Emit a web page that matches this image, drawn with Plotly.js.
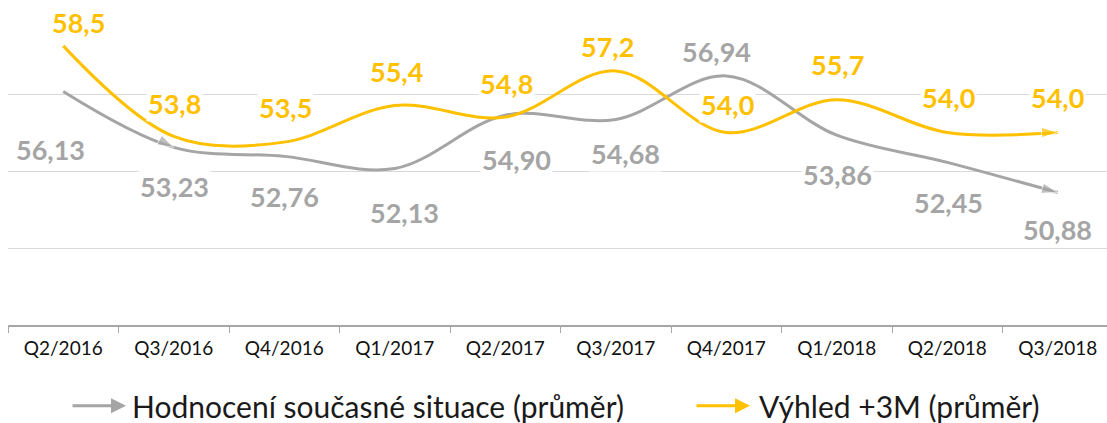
<!DOCTYPE html>
<html>
<head>
<meta charset="utf-8">
<script src="https://cdn.plot.ly/plotly-3.0.1.min.js"></script>
<style>
html,body{margin:0;padding:0;overflow:hidden;background:#fff;}
#chart{width:1113px;height:423px;}
</style>
</head>
<body>
<div id="chart"></div>
<script>
// ---- data ----
const categories = ['Q2/2016','Q3/2016','Q4/2016','Q1/2017','Q2/2017','Q3/2017','Q4/2017','Q1/2018','Q2/2018','Q3/2018'];
const currentSituation = [56.13,53.23,52.76,52.13,54.90,54.68,56.94,53.86,52.45,50.88];
const outlook3M = [58.5,53.8,53.5,55.4,54.8,57.2,54.0,55.7,54.0,54.0];
const seriesNames = ['Hodnocení současné situace (průměr)','Výhled +3M (průměr)'];

// ---- styling / label placement (pixels) ----
const GRAY = '#A5A5A5', GOLD = '#FFC000';
const FONT = 'Lato, "DejaVu Sans", sans-serif';
const grayLabelDx = [-13,1,0,10,11,10,-10,1,1,0];
const grayLabelDy = [-58,-39,-40,-44,-44,-34,24,-39,-40,-37];
const goldLabelDx = [15,1,1,2,1,-8,1,1,1,0];
const goldLabelDy = [23,33,35,34,34,24,28,35,35,35];

function fmt(v, d){ return v.toFixed(d).replace('.', ','); }

function arrowMarkers(n, idx){
  return {
    symbol: Array.from({length:n}, (_,i)=> idx.includes(i) ? 'arrow' : 'circle'),
    size: Array.from({length:n}, (_,i)=> idx.includes(i) ? 17 : 0),
    angleref: 'previous'
  };
}

const traces = [
  {
    x: categories, y: currentSituation, name: seriesNames[0], type:'scatter', mode:'lines+markers',
    line:{color:GRAY, width:3, shape:'spline', smoothing:1},
    marker: Object.assign({color:GRAY}, arrowMarkers(categories.length, [1, categories.length-1])),
    hoverinfo:'skip', showlegend:false
  },
  {
    x: categories, y: outlook3M, name: seriesNames[1], type:'scatter', mode:'lines+markers',
    line:{color:GOLD, width:3, shape:'spline', smoothing:1},
    marker: Object.assign({color:GOLD}, arrowMarkers(categories.length, [categories.length-1])),
    hoverinfo:'skip', showlegend:false
  }
];

const annotations = [];
categories.forEach((c,i)=>{
  annotations.push({x:c, y:currentSituation[i], xref:'x', yref:'y', text:fmt(currentSituation[i],2),
    showarrow:false, xshift:grayLabelDx[i], yshift:grayLabelDy[i], bgcolor:'#ffffff', borderpad:1,
    font:{family:FONT, size:27, color:GRAY, weight:'bold'}});
  annotations.push({x:c, y:outlook3M[i], xref:'x', yref:'y', text:fmt(outlook3M[i],1),
    showarrow:false, xshift:goldLabelDx[i], yshift:goldLabelDy[i], bgcolor:'#ffffff', borderpad:1,
    font:{family:FONT, size:27, color:GOLD, weight:'bold'}});
});

// legend drawn with arrow annotations + text
const legendY = -0.262;
const legendItems = [
  {tip:0.1068, color:GRAY, text:seriesNames[0], tx:0.1104},
  {tip:0.6715, color:GOLD, text:seriesNames[1], tx:0.6778}
];
legendItems.forEach(it=>{
  annotations.push({xref:'paper', yref:'paper', x:it.tip, y:legendY, ax:-55, ay:0, text:'',
    showarrow:true, arrowhead:2, arrowsize:1, arrowwidth:3, arrowcolor:it.color, standoff:0, startstandoff:0});
  annotations.push({xref:'paper', yref:'paper', x:it.tx, y:legendY, xanchor:'left', yanchor:'middle',
    text:it.text, showarrow:false, font:{family:FONT, size:30, color:'#1a1a1a'}});
});

const layout = {
  width:1113, height:423,
  margin:{l:8, r:0, t:17, b:98},
  paper_bgcolor:'#ffffff', plot_bgcolor:'#ffffff',
  showlegend:false,
  xaxis:{
    type:'category', range:[-0.5, 9.5], tickson:'boundaries',
    ticks:'outside', ticklen:6, tickcolor:'#A6A6A6', tickwidth:1,
    showline:true, linecolor:'#A6A6A6', linewidth:1.5,
    showgrid:false, zeroline:false,
    tickfont:{family:FONT, size:19, color:'#111111', weight:'normal'},
    ticklabelstandoff:6, fixedrange:true
  },
  yaxis:{
    range:[44, 60], dtick:4, tick0:44, showticklabels:false,
    showgrid:true, gridcolor:'#D9D9D9', gridwidth:1,
    zeroline:false, showline:false, ticks:'', fixedrange:true
  },
  annotations: annotations
};

Plotly.newPlot('chart', traces, layout, {displayModeBar:false, staticPlot:true});
</script>
</body>
</html>
